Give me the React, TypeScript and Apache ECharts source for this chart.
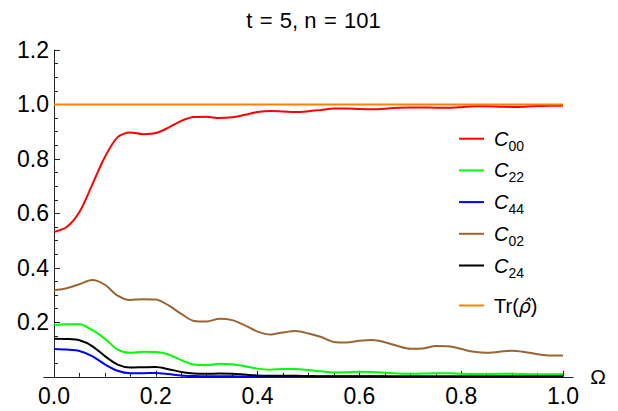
import React, { useEffect, useRef } from "react";
import * as echarts from "echarts";

const title = "t\u2004=\u20045, n\u2004=\u2004101";
const omega = [
  0, 0.025, 0.05, 0.075, 0.1, 0.125, 0.15, 0.175, 0.2, 0.225, 0.25, 0.275, 0.3, 0.325, 0.35, 0.375, 0.4,
  0.425, 0.45, 0.475, 0.5, 0.525, 0.55, 0.575, 0.6, 0.625, 0.65, 0.675, 0.7, 0.725, 0.75, 0.775, 0.8,
  0.825, 0.85, 0.875, 0.9, 0.925, 0.95, 0.975, 1.0,
];
const c00 = [
  0.532, 0.55, 0.605, 0.705, 0.807, 0.88, 0.897, 0.891, 0.895, 0.915, 0.94, 0.954, 0.955, 0.95, 0.953,
  0.962, 0.972, 0.976, 0.974, 0.972, 0.975, 0.98, 0.985, 0.985, 0.983, 0.982, 0.984, 0.988, 0.989, 0.989,
  0.988, 0.988, 0.99, 0.993, 0.993, 0.992, 0.991, 0.992, 0.994, 0.995, 0.995,
];
const c22 = [
  0.19, 0.193, 0.193, 0.172, 0.14, 0.1, 0.088, 0.092, 0.091, 0.082, 0.061, 0.045, 0.043, 0.048, 0.046,
  0.039, 0.03, 0.026, 0.029, 0.029, 0.025, 0.02, 0.016, 0.017, 0.019, 0.018, 0.015, 0.012, 0.011, 0.012,
  0.013, 0.013, 0.011, 0.01, 0.01, 0.011, 0.011, 0.01, 0.009, 0.009, 0.009,
];
const c44 = [
  0.102, 0.1, 0.095, 0.076, 0.046, 0.022, 0.013, 0.013, 0.014, 0.01, 0.005, 0.003, 0.002, 0.002, 0.002,
  0.001, 0.001, 0.001, 0.001, 0.001, 0.001, 0.001, 0.001, 0.001, 0.001, 0.001, 0.001, 0.001, 0.001, 0.001,
  0.001, 0.001, 0.001, 0.001, 0.001, 0.001, 0.001, 0.001, 0.001, 0.001, 0.001,
];
const c02 = [
  0.318, 0.325, 0.34, 0.355, 0.338, 0.298, 0.282, 0.285, 0.284, 0.262, 0.231, 0.205, 0.203, 0.213, 0.208,
  0.189, 0.166, 0.155, 0.163, 0.168, 0.159, 0.146, 0.128, 0.126, 0.132, 0.135, 0.127, 0.113, 0.103, 0.104,
  0.113, 0.112, 0.102, 0.092, 0.088, 0.092, 0.096, 0.091, 0.083, 0.078, 0.078,
];
const c24 = [
  0.14, 0.139, 0.134, 0.113, 0.076, 0.045, 0.034, 0.035, 0.036, 0.028, 0.018, 0.012, 0.011, 0.012, 0.011,
  0.008, 0.005, 0.004, 0.004, 0.004, 0.003, 0.002, 0.002, 0.002, 0.002, 0.002, 0.002, 0.001, 0.001, 0.001,
  0.001, 0.001, 0.001, 0.001, 0.001, 0.001, 0.001, 0.001, 0.001, 0.001, 0.001,
];
const trOmega = [0, 1];
const trValues = [1.0, 1.0];

const xMajorTicks = [0, 0.2, 0.4, 0.6, 0.8, 1.0];
const xMinorTicks = [
  0.05, 0.1, 0.15, 0.25, 0.3, 0.35, 0.45, 0.5, 0.55, 0.65, 0.7, 0.75, 0.85, 0.9, 0.95,
];

const seriesNames = ["C00", "C22", "C44", "C02", "C24", "Tr"];
const seriesColors = ["#ff0000", "#00ff00", "#0000ff", "#996633", "#000000", "#ff8000"];

const FONT = "'Liberation Sans', Arial, sans-serif";

export default function App() {
  const ref = useRef<HTMLDivElement>(null);
  useEffect(() => {
    if (!ref.current) return;
    const chart = echarts.init(ref.current, null, { renderer: "svg" });
    const valueSets = [c00, c22, c44, c02, c24];
    const series: any[] = valueSets.map((vals, i) => ({
      name: seriesNames[i],
      type: "line",
      xAxisIndex: 0,
      yAxisIndex: 0,
      data: omega.map((x, j) => [x, vals[j]]),
      showSymbol: false,
      symbol: "none",
      smooth: 0.3,
      clip: false,
      lineStyle: { width: 2, color: seriesColors[i] },
      itemStyle: { color: seriesColors[i] },
    }));
    series.push({
      name: seriesNames[5],
      type: "line",
      xAxisIndex: 0,
      yAxisIndex: 0,
      data: trOmega.map((x, j) => [x, trValues[j]]),
      showSymbol: false,
      symbol: "none",
      clip: false,
      lineStyle: { width: 2, color: seriesColors[5] },
      itemStyle: { color: seriesColors[5] },
    });

    const legendLabel = (name: string) => {
      if (name === "Tr") return "{n|Tr(}{i|ρ̂}{n|)}";
      return "{c|C}{s|" + name.slice(1) + "}";
    };
    const legendText = {
      fontFamily: FONT,
      color: "#000",
      padding: [0, 0, 0, 5],
      rich: {
        c: { fontFamily: FONT, fontSize: 20, fontStyle: "italic", color: "#000", lineHeight: 28 },
        s: { fontFamily: FONT, fontSize: 14, color: "#000", lineHeight: 14, verticalAlign: "bottom" },
        n: { fontFamily: FONT, fontSize: 20, color: "#000", lineHeight: 28 },
        i: { fontFamily: "'DejaVu Sans', sans-serif", fontSize: 19, fontStyle: "italic", color: "#000", lineHeight: 28 },
      },
    };
    const legendBase = {
      orient: "vertical",
      left: 459,
      padding: 0,
      itemWidth: 25,
      itemHeight: 2,
      itemGap: 7.7,
      icon: "rect",
      formatter: legendLabel,
      textStyle: legendText,
    };

    chart.setOption({
      animation: false,
      backgroundColor: "#ffffff",
      textStyle: { fontFamily: FONT },
      title: {
        text: title,
        left: 308.5,
        top: 4.5,
        textAlign: "center",
        textStyle: { fontFamily: FONT, fontSize: 22, fontWeight: "normal", color: "#000" },
      },
      grid: { left: 43.8, right: 44.8, top: 50, bottom: 34.2, containLabel: false },
      legend: [
        {
          ...legendBase,
          top: 128.7,
          data: seriesNames.slice(0, 5).map((n, i) => ({ name: n, itemStyle: { color: seriesColors[i] } })),
        },
        {
          ...legendBase,
          top: 295.5,
          data: [{ name: seriesNames[5], itemStyle: { color: seriesColors[5] } }],
        },
      ],
      xAxis: [
        {
          type: "value",
          min: -0.02,
          max: 1.02,
          position: "bottom",
          name: "Ω",
          nameLocation: "end",
          nameGap: 17,
          nameTextStyle: { fontFamily: FONT, fontSize: 21, color: "#000", verticalAlign: "middle", align: "left" },
          splitLine: { show: false },
          axisLine: { show: true, onZero: false, lineStyle: { color: "#222", width: 1 } },
          axisTick: { show: true, inside: true, length: 6, customValues: xMajorTicks, lineStyle: { color: "#222" } },
          axisLabel: {
            show: true,
            customValues: xMajorTicks,
            margin: 8,
            fontFamily: FONT,
            fontSize: 23,
            color: "#000",
            formatter: (v: number) => v.toFixed(1),
          },
        },
        {
          type: "value",
          min: -0.02,
          max: 1.02,
          position: "bottom",
          splitLine: { show: false },
          axisLine: { show: false, onZero: false },
          axisTick: { show: true, inside: true, length: 4, customValues: xMinorTicks, lineStyle: { color: "#222" } },
          axisLabel: { show: false },
        },
      ],
      yAxis: {
        type: "value",
        min: 0,
        max: 1.2,
        interval: 0.2,
        position: "left",
        offset: -10.18,
        splitLine: { show: false },
        axisLine: { show: true, onZero: false, lineStyle: { color: "#222", width: 1 } },
        axisTick: { show: true, inside: true, length: 6, lineStyle: { color: "#222" } },
        minorTick: { show: true, splitNumber: 4, length: 4, lineStyle: { color: "#222" } },
        minorSplitLine: { show: false },
        axisLabel: {
          show: true,
          showMinLabel: false,
          margin: 5,
          fontFamily: FONT,
          fontSize: 23,
          color: "#000",
          formatter: (v: number) => (v === 0 ? "" : v.toFixed(1)),
        },
      },
      series,
    });
    return () => chart.dispose();
  }, []);
  return (
    <div
      ref={ref}
      style={{ position: "fixed", left: 0, top: 0, width: "618px", height: "411px", background: "#fff" }}
    />
  );
}
